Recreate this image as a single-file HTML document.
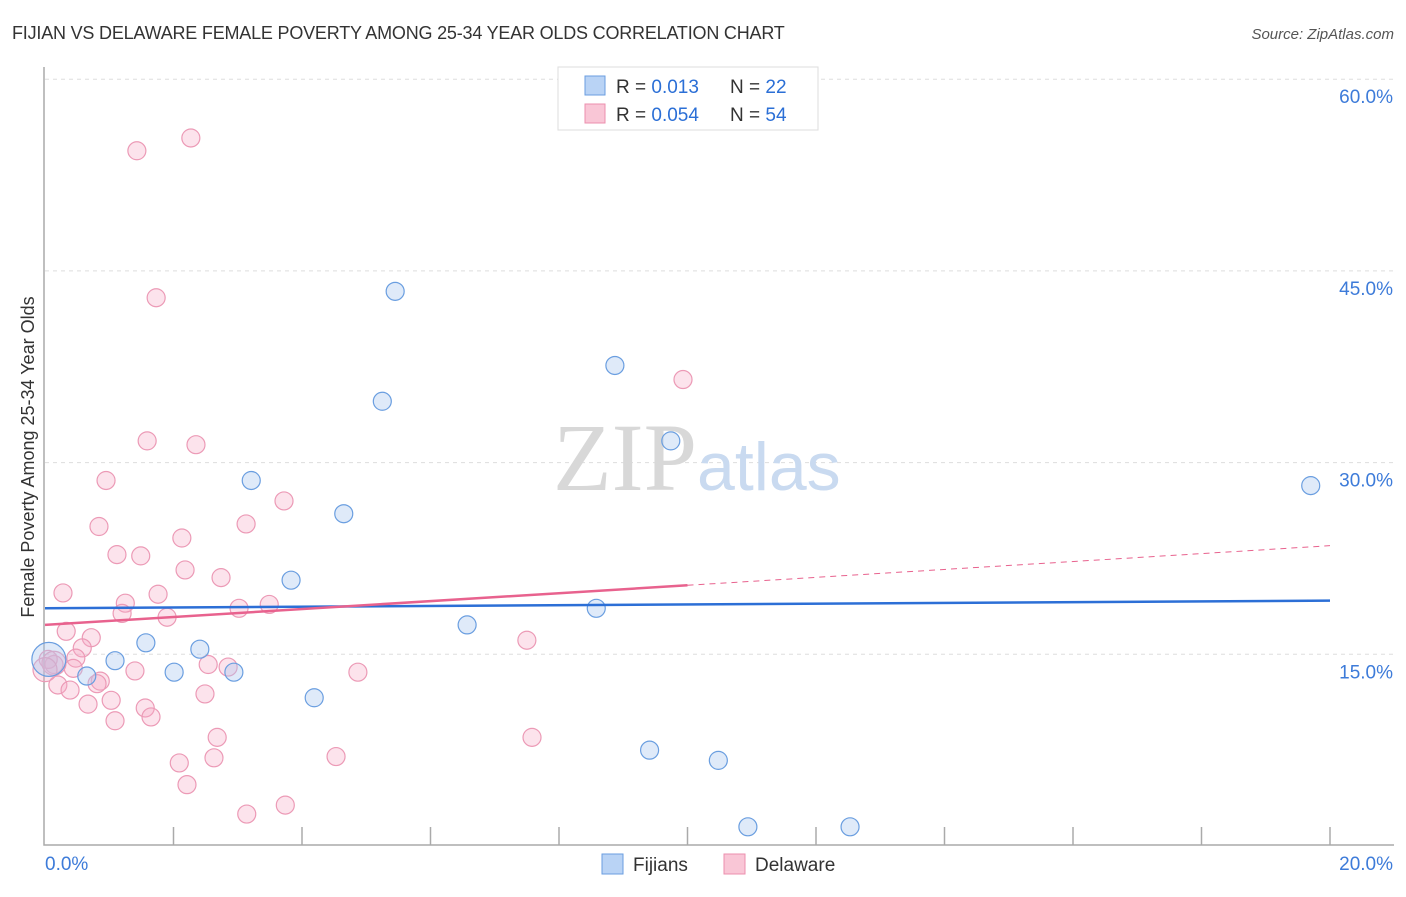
<!DOCTYPE html>
<html><head><meta charset="utf-8"><style>
body{margin:0;background:#fff;font-family:"Liberation Sans",sans-serif;}
svg text{font-family:"Liberation Sans",sans-serif;}
</style></head><body>
<svg id="chart" width="1406" height="892">
<text x="12" y="39" font-size="18" fill="#333" letter-spacing="-0.2">FIJIAN VS DELAWARE FEMALE POVERTY AMONG 25-34 YEAR OLDS CORRELATION CHART</text>
<text x="1394" y="39" font-size="15" fill="#555" font-style="italic" text-anchor="end">Source: ZipAtlas.com</text>
<text x="0" y="0" transform="translate(34,457) rotate(-90)" font-size="18" fill="#333" text-anchor="middle">Female Poverty Among 25-34 Year Olds</text>
<g id="grid"></g>
<text x="553" y="490" font-size="96" fill="#ddd"><tspan font-family="Liberation Serif" fill="#d8d8d8">ZIP</tspan><tspan font-family="Liberation Sans" font-size="68" fill="#c9daf0">atlas</tspan></text>
<g id="points"></g>
<g id="trends"></g>
<g>
<rect x="558" y="67" width="260" height="63" fill="#fff" stroke="#ddd"/>
<rect x="585" y="76" width="20" height="19" fill="#b9d3f5" stroke="#6a9ee0"/>
<rect x="585" y="104" width="20" height="19" fill="#f9c6d6" stroke="#ec8fae"/>
<text x="616" y="93" font-size="19" fill="#333">R = <tspan fill="#2b6fd6"> 0.013</tspan><tspan x="730">N = </tspan><tspan fill="#2b6fd6">22</tspan></text>
<text x="616" y="121" font-size="19" fill="#333">R = <tspan fill="#2b6fd6">0.054</tspan><tspan x="730">N = </tspan><tspan fill="#2b6fd6">54</tspan></text>
</g>
<g>
<rect x="602" y="854" width="21" height="20" fill="#b9d3f5" stroke="#6a9ee0"/>
<text x="633" y="871" font-size="19" fill="#333">Fijians</text>
<rect x="724" y="854" width="21" height="20" fill="#f9c6d6" stroke="#ec8fae"/>
<text x="755" y="871" font-size="19" fill="#333">Delaware</text>
</g>
</svg>
<script>
const xTicks=[0,2,4,6,8,10,12,14,16,18,20];
const yTicks=[15,30,45,60];
const yTickLabels=["15.0%","30.0%","45.0%","60.0%"];
const fijiX=[5.45,8.87,5.25,9.74,3.21,4.65,19.7,3.83,8.58,6.57,1.57,2.41,1.09,0.65,2.01,2.94,4.19,9.41,10.48,10.94,12.53,0.06];
const fijiY=[43.4,37.6,34.8,31.7,28.6,26.0,28.2,20.8,18.6,17.3,15.9,15.4,14.5,13.3,13.6,13.6,11.6,7.5,6.7,1.5,1.5,14.6];
const delX=[2.27,1.43,1.73,9.93,1.59,2.35,0.95,3.72,0.84,3.13,2.13,1.12,1.49,2.18,2.74,0.28,1.76,1.25,3.02,3.49,1.20,1.90,0.33,0.72,0.58,7.50,0.48,0.14,0.05,0.44,1.40,2.54,2.85,4.87,0.20,0.86,0.39,0.81,1.03,2.49,0.67,1.56,1.65,1.09,2.68,7.58,2.63,4.53,2.09,2.21,3.74,3.14,0.14,0.0];
const delY=[55.4,54.4,42.9,36.5,31.7,31.4,28.6,27.0,25.0,25.2,24.1,22.8,22.7,21.6,21.0,19.8,19.7,19.0,18.6,18.9,18.2,17.9,16.8,16.3,15.5,16.1,14.7,14.2,14.6,13.9,13.7,14.2,14.0,13.6,12.6,12.9,12.2,12.7,11.4,11.9,11.1,10.8,10.1,9.8,8.5,8.5,6.9,7.0,6.5,4.8,3.2,2.5,14.3,13.8];
const fijiTrend=[18.6,19.2];
const delTrend=[17.3,20.4,23.5];
const X=v=>45+v*64.25, Y=v=>846-v*12.78;
const NS="http://www.w3.org/2000/svg";
function mk(tag,attrs,parent){const e=document.createElementNS(NS,tag);for(const k in attrs)e.setAttribute(k,attrs[k]);parent.appendChild(e);return e;}
const grid=document.getElementById('grid');
yTicks.forEach((t,i)=>{
 const l=mk('line',{x1:45,x2:1394,y1:Y(t),y2:Y(t),stroke:'#ddd','stroke-dasharray':'4,4'},grid);
 
 
 const tx=mk('text',{x:1393,y:Y(t)+24,'font-size':19,fill:'#3d7bd9','text-anchor':'end'},grid);
 tx.textContent=yTickLabels[i];
 
 
});
const ax=mk('path',{d:`M44 67 V845 H1394`,stroke:'#aaa',fill:'none','stroke-width':1.5},grid);


xTicks.forEach(t=>{
 if(t===0)return;
 const l=mk('line',{x1:X(t),x2:X(t),y1:827,y2:845,stroke:'#aaa','stroke-width':1.5},grid);
 
 
});
[[0,'0.0%','start',45],[20,'20.0%','end',1393]].forEach(a=>{
 const tx=mk('text',{x:a[3],y:870,'font-size':19,fill:'#3d7bd9','text-anchor':a[2]},grid);
 tx.textContent=a[1];
 
 
});
const pts=document.getElementById('points');
delX.forEach((x,i)=>{
 const r=(i>=52)?12:9;
 const c=mk('circle',{cx:X(x),cy:Y(delY[i]),r:r,fill:'rgba(246,170,196,0.33)',stroke:'#ec9ab6','stroke-width':1.2},pts);
 
 
});
fijiX.forEach((x,i)=>{
 const r=(i===21)?17:9;
 const c=mk('circle',{cx:X(x),cy:Y(fijiY[i]),r:r,fill:'rgba(170,200,240,0.38)',stroke:'#6a9ee0','stroke-width':1.2},pts);
 
 
});
const tr=document.getElementById('trends');
const b=mk('line',{x1:X(0),y1:Y(fijiTrend[0]),x2:X(20),y2:Y(fijiTrend[1]),stroke:'#2c6fd6','stroke-width':2.5},tr);


const p=mk('line',{x1:X(0),y1:Y(delTrend[0]),x2:X(10),y2:Y(delTrend[1]),stroke:'#e8628e','stroke-width':2.5},tr);


const pd=mk('line',{x1:X(10),y1:Y(delTrend[1]),x2:X(20),y2:Y(delTrend[2]),stroke:'#e8628e','stroke-width':1,'stroke-dasharray':'6,5'},tr);


</script>
</body></html>
